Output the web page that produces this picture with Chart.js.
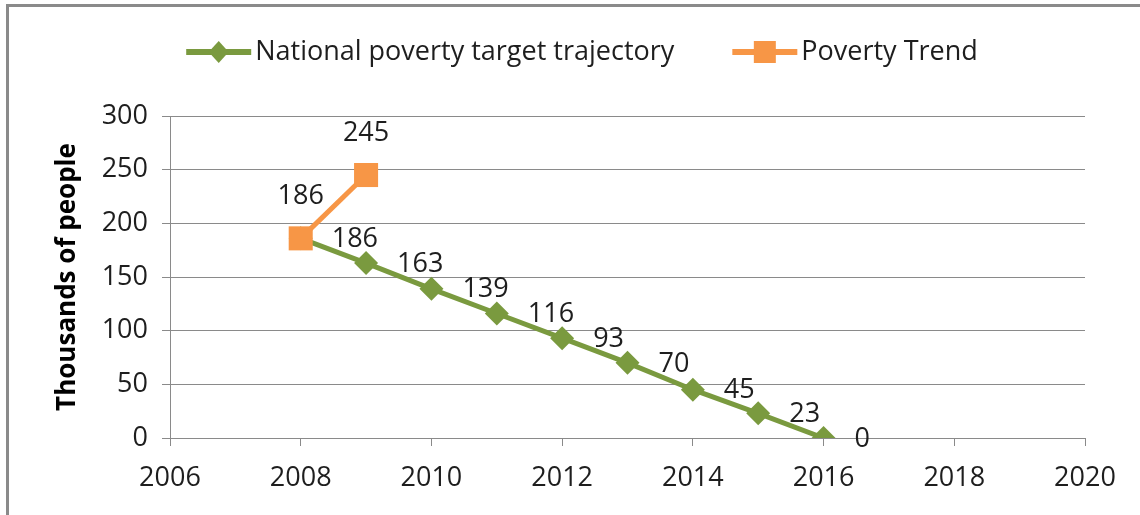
<!DOCTYPE html>
<html>
<head>
<meta charset="utf-8">
<script src="https://cdn.jsdelivr.net/npm/chart.js@4.4.1/dist/chart.umd.min.js"></script>
<style>
  html, body { margin: 0; padding: 0; background: #fff; overflow: hidden; }
  #wrap { position: relative; width: 1140px; height: 515px; }
  #frame { position: absolute; left: 6px; top: 4px; width: 1200px; height: 600px;
           border-left: 3px solid #8a8a8a; border-top: 3px solid #8a8a8a; pointer-events: none; }
  canvas { position: absolute; left: 0; top: 0; }
</style>
</head>
<body>
<div id="wrap">
  <canvas id="c" width="1140" height="515"></canvas>
  <div id="frame"></div>
</div>
<script>
// ---- data ----
const targetYears = [2008, 2009, 2010, 2011, 2012, 2013, 2014, 2015, 2016];
const targetValues = [186, 163, 139, 116, 93, 70, 45, 23, 0];
const targetLabels = ["186", "163", "139", "116", "93", "70", "45", "23", "0"];
const trendYears = [2008, 2009];
const trendValues = [186, 245];
const trendLabels = ["186", "245"];
const seriesNames = ["National poverty target trajectory", "Poverty Trend"];
const xTickValues = [2006, 2008, 2010, 2012, 2014, 2016, 2018, 2020];
const yTickValues = [0, 50, 100, 150, 200, 250, 300];
const yAxisTitle = "Thousands of people";

const GREEN = '#7a9a3f';
const ORANGE = '#f79646';
const FONT = "'Open Sans', 'Liberation Sans', sans-serif";
const TXT = '#1e1e1e';
const FS = 27;

// custom legend (Excel-like line + marker)
const legendPlugin = {
  id: 'excelLegend',
  afterDraw(chart) {
    const ctx = chart.ctx;
    ctx.save();
    ctx.font = FS + "px " + FONT;
    const markerW = 65, gap = 4, itemGap = 58;
    const items = chart.data.datasets.map(ds => ({
      text: ds.label, color: ds.borderColor, style: ds.pointStyle,
      w: ctx.measureText(ds.label).width
    }));
    let total = 0;
    items.forEach((it, i) => { total += markerW + gap + it.w + (i ? itemGap : 0); });
    let x = 582 - total / 2;
    const y = 52;
    items.forEach((it, i) => {
      if (i) x += itemGap;
      ctx.strokeStyle = it.color;
      ctx.lineWidth = 6;
      ctx.beginPath(); ctx.moveTo(x, y); ctx.lineTo(x + markerW, y); ctx.stroke();
      const cx = x + markerW / 2;
      ctx.fillStyle = it.color;
      ctx.beginPath();
      if (it.style === 'rectRot') {
        ctx.moveTo(cx, y - 11); ctx.lineTo(cx + 10, y); ctx.lineTo(cx, y + 11); ctx.lineTo(cx - 10, y);
        ctx.closePath();
      } else {
        ctx.rect(cx - 11, y - 11, 22, 22);
      }
      ctx.fill();
      ctx.fillStyle = TXT;
      ctx.textAlign = 'left';
      ctx.textBaseline = 'middle';
      ctx.fillText(it.text, x + markerW + gap, y);
      x += markerW + gap + it.w;
    });
    ctx.restore();
  }
};

// data labels
const labelPlugin = {
  id: 'valueLabels',
  afterDatasetsDraw(chart) {
    const ctx = chart.ctx;
    ctx.save();
    ctx.font = FS + "px " + FONT;
    ctx.fillStyle = TXT;
    ctx.textBaseline = 'middle';
    chart.data.datasets.forEach((ds, di) => {
      const meta = chart.getDatasetMeta(di);
      meta.data.forEach((pt, i) => {
        const txt = ds.valueLabels[i];
        if (ds.labelPos === 'right') {
          ctx.textAlign = 'left';
          ctx.fillText(txt, pt.x + 31, pt.y + 1);
        } else {
          ctx.textAlign = 'center';
          ctx.fillText(txt, pt.x, pt.y - 42);
        }
      });
    });
    ctx.restore();
  }
};

new Chart(document.getElementById('c'), {
  type: 'line',
  data: {
    datasets: [
      {
        label: seriesNames[0],
        data: targetYears.map((x, i) => ({ x: x, y: targetValues[i] })),
        valueLabels: targetLabels,
        labelPos: 'right',
        borderColor: GREEN,
        backgroundColor: GREEN,
        borderWidth: 5,
        pointStyle: 'rectRot',
        pointRadius: 12,
        pointHoverRadius: 12,
        pointBorderWidth: 0,
        tension: 0,
        order: 2
      },
      {
        label: seriesNames[1],
        data: trendYears.map((x, i) => ({ x: x, y: trendValues[i] })),
        valueLabels: trendLabels,
        labelPos: 'top',
        borderColor: ORANGE,
        backgroundColor: ORANGE,
        borderWidth: 5,
        pointStyle: 'rect',
        pointRadius: 17,
        pointHoverRadius: 17,
        pointBorderWidth: 0,
        tension: 0,
        order: 1
      }
    ]
  },
  options: {
    responsive: false,
    animation: false,
    events: [],
    layout: { padding: { left: 40, right: 55, top: 116, bottom: 0 } },
    plugins: {
      legend: { display: false },
      tooltip: { enabled: false }
    },
    scales: {
      x: {
        type: 'linear',
        min: xTickValues[0],
        max: xTickValues[xTickValues.length - 1],
        afterBuildTicks: (s) => { s.ticks = xTickValues.map(v => ({ value: v })); },
        afterFit: (s) => { s.height = 77; },
        ticks: { color: TXT, font: { family: FONT, size: FS }, padding: 16, maxRotation: 0,
                 callback: (v) => String(v) },
        grid: { drawOnChartArea: false, drawTicks: true, tickLength: 8, color: '#8a8a8a', lineWidth: 1 },
        border: { display: true, color: '#8a8a8a', width: 1 }
      },
      y: {
        min: yTickValues[0],
        max: yTickValues[yTickValues.length - 1],
        afterBuildTicks: (s) => { s.ticks = yTickValues.map(v => ({ value: v })); },
        afterFit: (s) => { s.width = 130; },
        ticks: { color: TXT, font: { family: FONT, size: FS }, padding: 14 },
        grid: { drawTicks: true, tickLength: 8, color: '#8a8a8a', lineWidth: 1 },
        border: { display: true, color: '#8a8a8a', width: 1 },
        title: {
          display: true, text: yAxisTitle, color: '#000',
          font: { family: FONT, size: 26, weight: 'bold' },
          padding: { top: 12, bottom: 0 }
        }
      }
    }
  },
  plugins: [legendPlugin, labelPlugin]
});
</script>
</body>
</html>
